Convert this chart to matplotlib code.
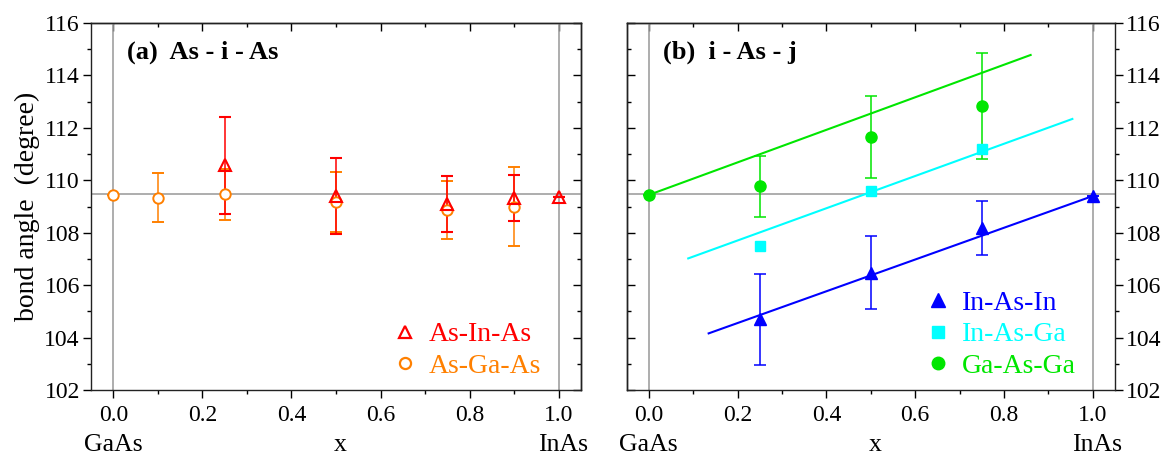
import matplotlib
matplotlib.use("Agg")
import matplotlib.pyplot as plt
import matplotlib.transforms as mtransforms
from matplotlib.lines import Line2D
import numpy as np

plt.rcParams['font.family'] = ['Liberation Serif', 'DejaVu Serif']
plt.rcParams['mathtext.fontset'] = 'stix'

# ---------------- data ----------------
TETRA = 109.47

# panel (a)
asinas_x = [0.25, 0.5, 0.75, 0.9, 1.0]
asinas_y = [110.58, 109.40, 109.10, 109.33, 109.37]
asinas_err = [1.85, 1.45, 1.07, 0.87, 0.0]

asgaas_x = [0.0, 0.1, 0.25, 0.5, 0.75, 0.9]
asgaas_y = [109.44, 109.33, 109.46, 109.17, 108.87, 109.00]
asgaas_err = [0.0, 0.93, 0.98, 1.15, 1.12, 1.52]

# panel (b)
inasin_x = [0.25, 0.5, 0.75, 1.0]
inasin_y = [104.69, 106.48, 108.18, 109.40]
inasin_err = [1.73, 1.40, 1.04, 0.0]

inasga_x = [0.25, 0.5, 0.75]
inasga_y = [107.49, 109.60, 111.20]

gaasga_x = [0.0, 0.25, 0.5, 0.75]
gaasga_y = [109.44, 109.77, 111.65, 112.82]
gaasga_err = [0.0, 1.16, 1.58, 2.02]

# linear fit lines (end points)
fit_inasin_x = [0.135, 1.0]
fit_inasin_y = [104.16, 109.40]
fit_inasga_x = [0.089, 0.954]
fit_inasga_y = [107.02, 112.34]
fit_gaasga_x = [0.0, 0.86]
fit_gaasga_y = [109.44, 114.78]

xticks = [0.0, 0.2, 0.4, 0.6, 0.8, 1.0]
yticks = [102, 104, 106, 108, 110, 112, 114, 116]

# ---------------- colours ----------------
RED = '#ff0000'
ORANGE = '#ff8000'
BLUE = '#0000ff'
CYAN = '#00ffff'
GREEN = '#00e600'
GRAY = '#a0a0a0'

fig = plt.figure(figsize=(11.66, 4.55), dpi=100)
axL = fig.add_axes([91/1166, 1-390/455, (581-91)/1166, (390-23)/455])
axR = fig.add_axes([626.5/1166, 1-390/455, (1115-626.5)/1166, (390-23)/455])

TICKFS = 17


def style(ax, labels_side):
    ax.set_xlim(-0.05, 1.05)
    ax.set_ylim(102, 116)
    ax.axhline(TETRA, color=GRAY, lw=1.2, zorder=1)
    ax.axvline(0.0, color=GRAY, lw=1.2, zorder=1)
    ax.axvline(1.0, color=GRAY, lw=1.2, zorder=1)
    for s in ax.spines.values():
        s.set_linewidth(1.0)
        s.set_color('#222222')
    ax.set_xticks(xticks)
    ax.set_xticklabels([f"{v:.1f}" for v in xticks])
    ax.set_xticks(np.arange(-0.0, 1.05, 0.1), minor=True)
    ax.set_yticks(yticks)
    ax.set_yticks(np.arange(102, 116.5, 1), minor=True)
    ax.tick_params(axis='x', which='major', direction='out', length=6, width=1,
                   labelsize=TICKFS, pad=5)
    ax.tick_params(axis='x', which='minor', direction='out', length=3, width=1)
    top = ax.secondary_xaxis('top')
    top.set_xticks(xticks)
    top.set_xticks(np.arange(0.0, 1.05, 0.1), minor=True)
    top.tick_params(which='major', direction='in', length=6, width=1, labeltop=False)
    top.tick_params(which='minor', direction='in', length=3, width=1)
    top.spines['top'].set_linewidth(1.0)
    if labels_side == 'left':
        ax.tick_params(axis='y', which='major', direction='out', length=6, width=1,
                       labelsize=TICKFS, pad=2, left=True, right=False,
                       labelleft=True, labelright=False)
        ax.tick_params(axis='y', which='minor', direction='out', length=3, width=1,
                       left=True, right=False)
        other = ax.secondary_yaxis('right')
        oside = 'right'
    else:
        ax.yaxis.tick_right()
        ax.tick_params(axis='y', which='major', direction='out', length=6, width=1,
                       labelsize=TICKFS, pad=2, left=False, right=True,
                       labelleft=False, labelright=True)
        ax.tick_params(axis='y', which='minor', direction='out', length=3, width=1,
                       left=False, right=True)
        other = ax.secondary_yaxis('left')
        oside = 'left'
    other.set_yticks(yticks)
    other.set_yticks(np.arange(102, 116.5, 1), minor=True)
    other.tick_params(which='major', direction='in', length=6, width=1,
                      labelleft=False, labelright=False)
    other.tick_params(which='minor', direction='in', length=3, width=1)
    other.spines[oside].set_linewidth(1.0)

    trans = mtransforms.blended_transform_factory(ax.transData, ax.transAxes)
    ax.text(0.0, -0.150, 'GaAs', transform=trans, ha='center', va='center', fontsize=18.5)
    ax.text(0.51, -0.150, 'x', transform=trans, ha='center', va='center', fontsize=18.5)
    ax.text(1.01, -0.150, 'InAs', transform=trans, ha='center', va='center', fontsize=18.5)


style(axL, 'left')
style(axR, 'right')

# ---------------- panel (a) ----------------
ebkw = dict(capsize=4.5, elinewidth=1.1, capthick=1.1, linestyle='none', zorder=3)
axL.errorbar(asgaas_x, asgaas_y, yerr=asgaas_err, color=ORANGE, marker='o',
             ms=7.5, mfc='white', mec=ORANGE, mew=1.4, **ebkw)
axL.errorbar(asinas_x, asinas_y, yerr=asinas_err, color=RED, marker='^',
             ms=8.5, mfc='none', mec=RED, mew=1.5, **ebkw)

axL.text(0.073, 0.92, '(a)  As - i - As', transform=axL.transAxes, fontsize=19,
         fontweight='bold', ha='left', va='center')
axL.set_ylabel('bond angle  (degree)', fontsize=20, labelpad=3)

legkw = dict(loc='lower right', frameon=False, fontsize=20, handlelength=0.8,
             handletextpad=0.45, labelspacing=0.22, borderaxespad=0, borderpad=0)
hL = [Line2D([], [], ls='none', marker='^', ms=9, mfc='none', mec=RED, mew=1.6),
      Line2D([], [], ls='none', marker='o', ms=8, mfc='none', mec=ORANGE, mew=1.6)]
legL = axL.legend(hL, ['As-In-As', 'As-Ga-As'],
                  bbox_to_anchor=(1 - 40/490, 11/367), **legkw)
for t, c in zip(legL.get_texts(), [RED, ORANGE]):
    t.set_color(c)

# ---------------- panel (b) ----------------
axR.plot(fit_gaasga_x, fit_gaasga_y, color=GREEN, lw=1.5, zorder=2)
axR.plot(fit_inasga_x, fit_inasga_y, color=CYAN, lw=1.5, zorder=2)
axR.plot(fit_inasin_x, fit_inasin_y, color=BLUE, lw=1.5, zorder=2)

axR.errorbar(gaasga_x, gaasga_y, yerr=gaasga_err, color=GREEN, marker='o',
             ms=8, mfc=GREEN, mec=GREEN, **ebkw)
axR.errorbar(inasin_x, inasin_y, yerr=inasin_err, color=BLUE, marker='^',
             ms=8.5, mfc=BLUE, mec=BLUE, **ebkw)
axR.plot(inasga_x, inasga_y, color=CYAN, marker='s', ms=7, linestyle='none', zorder=4)

axR.text(0.074, 0.92, '(b)  i - As - j', transform=axR.transAxes, fontsize=19,
         fontweight='bold', ha='left', va='center')

hR = [Line2D([], [], ls='none', marker='^', ms=10, color=BLUE),
      Line2D([], [], ls='none', marker='s', ms=8, color=CYAN),
      Line2D([], [], ls='none', marker='o', ms=9, color=GREEN)]
legR = axR.legend(hR, ['In-As-In', 'In-As-Ga', 'Ga-As-Ga'],
                  bbox_to_anchor=(1 - 39/488.5, 11/367), **legkw)
for t, c in zip(legR.get_texts(), [BLUE, CYAN, GREEN]):
    t.set_color(c)

fig.savefig('out.png', dpi=100)
